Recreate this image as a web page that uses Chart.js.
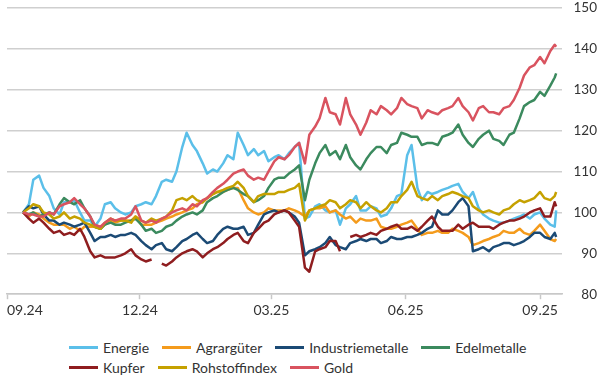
<!DOCTYPE html>
<html>
<head>
<meta charset="utf-8">
<script src="https://cdn.jsdelivr.net/npm/chart.js@4.4.1/dist/chart.umd.min.js"></script>
<style>
  html, body { margin: 0; padding: 0; background: #fff; }
  #wrap { position: relative; width: 600px; height: 380px; font-family: Lato, sans-serif; }
  #chartBox { position: absolute; left: 0; top: 0; width: 600px; height: 330px; }
  #legend { position: absolute; left: 69px; top: 337px; width: 531px; display: flex; flex-wrap: wrap; font-size: 14px; color: #333; }
  .item { display: flex; align-items: center; height: 20px; margin-right: 13px; }
  .swatch { width: 29px; height: 3px; margin-right: 5px; }
  .break { flex-basis: 100%; height: 0; }
</style>
</head>
<body>
<div id="wrap">
  <div id="chartBox"><canvas id="chart"></canvas></div>
  <div id="legend"></div>
</div>
<script>
// Twice-weekly readings, index 100 at start
const dates = [
  '2024-09-12','2024-09-16','2024-09-19','2024-09-23','2024-09-26','2024-09-30',
  '2024-10-03','2024-10-07','2024-10-10','2024-10-14','2024-10-17','2024-10-21','2024-10-24','2024-10-28','2024-10-31',
  '2024-11-04','2024-11-07','2024-11-11','2024-11-14','2024-11-18','2024-11-21','2024-11-25','2024-11-28',
  '2024-12-02','2024-12-05','2024-12-09','2024-12-12','2024-12-16','2024-12-19','2024-12-23','2024-12-26','2024-12-30',
  '2025-01-02','2025-01-06','2025-01-09','2025-01-13','2025-01-16','2025-01-20','2025-01-23','2025-01-27','2025-01-30',
  '2025-02-03','2025-02-06','2025-02-10','2025-02-13','2025-02-17','2025-02-20','2025-02-24','2025-02-27',
  '2025-03-03','2025-03-06','2025-03-10','2025-03-13','2025-03-17','2025-03-20','2025-03-24','2025-03-27','2025-03-31',
  '2025-04-03','2025-04-07','2025-04-10','2025-04-14','2025-04-17','2025-04-21','2025-04-24','2025-04-28',
  '2025-05-01','2025-05-05','2025-05-08','2025-05-12','2025-05-15','2025-05-19','2025-05-22','2025-05-26','2025-05-29',
  '2025-06-02','2025-06-05','2025-06-09','2025-06-12','2025-06-16','2025-06-19','2025-06-23','2025-06-26','2025-06-30',
  '2025-07-03','2025-07-07','2025-07-10','2025-07-14','2025-07-17','2025-07-21','2025-07-24','2025-07-28','2025-07-31',
  '2025-08-04','2025-08-07','2025-08-11','2025-08-14','2025-08-18','2025-08-21','2025-08-25','2025-08-28',
  '2025-09-01','2025-09-04','2025-09-08','2025-09-11','2025-09-12'
];

const energie = [
  100, 102, 108, 109, 106, 104, 101, 99.5, 102.5, 102.5,
  103, 100, 98, 98, 96.5, 98.5, 102, 102.5, 101, 100,
  99.5, 100, 101.5, 102, 102.5, 102, 104, 107.5, 108, 107.5,
  110, 116, 119.5, 116.5, 115, 112, 109.5, 110.5, 110, 112,
  114, 113, 119.5, 116.5, 114, 115.5, 114, 115, 112.5, 113.5,
  114, 113, 114.5, 116, 117, 98.5, 99, 101.5, 102, 100.5,
  100, 100.5, 97, 101, 102, 104, 100.5, 100.5, 101.5, 101,
  99, 99.5, 101, 104, 104.5, 114, 116.5, 106, 103, 105,
  104.5, 105, 105.5, 106, 106.5, 107, 105, 103.5, 105, 101,
  99.5, 98.5, 98, 97.5, 97.5, 98, 98.5, 99, 99.5, 98.5,
  99.5, 100, 98.5, 97, 96.5, 100.5
];
const agrar = [
  100, 99, 100, 99.5, 98.5, 97.5, 97, 97, 97, 96,
  96.5, 95.5, 96.5, 96.5, 96.5, 96, 97, 98, 97.5, 98,
  98, 98, 99, 97, 97, 97, 97.5, 98, 98.5, 99,
  99.5, 100, 100.5, 101, 102, 102.5, 103.5, 104.5, 105, 105,
  105.5, 106, 106, 103, 101, 100, 99.5, 100, 101, 100.5,
  100.5, 100.5, 101, 100.5, 100, 99, 100.5, 101, 101, 101.5,
  100, 100.5, 99.5, 98.5, 99, 97.5, 98.5, 98, 98, 98.5,
  96.5, 96, 96, 96.5, 97, 97.5, 98, 96, 94.5, 95,
  95, 95.5, 95, 95, 96, 95.5, 95, 94, 92, 92.5,
  93, 93.5, 94, 94.5, 95.5, 95, 95, 96, 95, 94.5,
  95.5, 97, 95.5, 93.5, 93, 93.5
];
const industrie = [
  100, 101.5, 101, 101.5, 99.5, 98, 98, 97, 97.5, 97,
  96.5, 97, 97.5, 95, 93, 94, 94, 94.5, 94, 94.5,
  94.5, 95, 94.5, 93, 92, 91, 92, 92.5, 91, 90.5,
  91.5, 93, 93.5, 94.5, 95, 93.5, 92.5, 93, 94.5, 96,
  96.5, 96, 96, 96.5, 94.5, 95, 97, 99.5, 100, 100.5,
  100, 100.5, 100, 99, 97.5, 89.5, 90.5, 91, 91.5, 92.5,
  94, 92, 91.5, 91, 92.5, 93, 93.5, 93, 93.5, 93.5,
  92.5, 93, 94, 93.5, 93.5, 94, 94, 94.5, 95, 96,
  96.5, 100.5, 99.5, 99.5, 100.5, 102.5, 103.5, 101.5, 90.5, 91,
  91.5, 90.5, 91.5, 92, 92.5, 92.5, 92, 92.5, 93, 94,
  95, 95, 94, 93.5, 95, 94
];
const edel = [
  100, 99.5, 100, 99, 99.5, 100, 99.5, 102, 103.5, 102.5,
  102, 103, 101, 99, 96.5, 96, 97, 97.5, 97, 97,
  97.5, 98, 98.5, 97, 95.5, 96, 95, 95.5, 96.5, 97,
  98, 99, 99.5, 100, 99.5, 100.5, 102.5, 103.5, 104, 105,
  105.5, 106, 105.5, 104.5, 104, 102.5, 103, 104, 106, 108,
  108.5, 108.5, 109.5, 110.5, 111.5, 103, 108, 112, 114.5, 116.5,
  114, 115, 113, 116.5, 113.5, 111.5, 110.5, 113, 114.5, 116,
  116, 114.5, 116.5, 117, 119.5, 119, 118.5, 118.5, 116.5, 117,
  117, 116.5, 118.5, 119, 119.5, 121.5, 119, 117, 116, 118,
  119, 120, 118, 117.5, 116.5, 119, 119.5, 123, 126, 127,
  127.5, 129.5, 128.5, 131, 133, 134
];
const kupfer = [
  100, 98.5, 97.5, 98.5, 97.5, 96, 95, 95.5, 94.5, 95,
  94.5, 96, 94, 90.5, 89, 89.5, 89, 89, 89, 89.5,
  90, 91, 89.5, 88.5, 88, 88.5, null, 87.5, 87, 88,
  89, 90, 90.5, 91, 90.5, 89, 90, 91, 91.5, 92.5,
  93.5, 94.5, 95, 93, 92.5, 95, 96, 97.5, 98, 99.5,
  100, 100.5, 100, 98, 96.5, 86.5, 85.5, 90.5, 91, 91.5,
  93, 93, 90.5, null, 94, 94.5, 94, 94.5, 95, 94.5,
  95.5, 96, 96.5, 97, 96, 96, 96.5, 95.5, 96.5, 98,
  99, 96.5, 95.5, 95.5, 95.5, 97, 96, 97, 97.5, 96.5,
  96.5, 96.5, 96, 97, 97.5, 98, 98, 98.5, 99, 100,
  100.5, 101, 99, 99, 102.5, 101.5
];
const rohstoff = [
  100, 101, 102, 101.5, 100, 99.5, 98.5, 99, 100, 98.5,
  99, 98.5, 97.5, 97, 96.5, 96, 97.5, 98.5, 98, 98,
  98, 97.5, 99, 98, 97.5, 98.5, 98, 98.5, 99, 100.5,
  103, 103.5, 103, 104, 103, 102.5, 103.5, 104.5, 105, 105.5,
  106, 106.5, 107.5, 106, 104, 102.5, 104, 104.5, 104.5, 104.5,
  105, 105, 105.5, 106, 107, 98, 100.5, 101, 101.5, 102,
  103, 102.5, 101, 102, 103, 102.5, 101, 102.5, 101.5, 100.5,
  100, 101, 102.5, 102.5, 104, 105.5, 107.5, 104, 103.5, 103,
  104, 103, 104, 104.5, 105, 104.5, 104, 103.5, 101.5, 100.5,
  100, 100.5, 100, 99.5, 100.5, 101, 102, 103, 102.5, 103,
  103.5, 105, 103.5, 103, 104, 105
];
const gold = [
  100, 99.5, 99.5, 99, 99, 100, 99.5, 101.5, 102, 102.5,
  103.5, 102, 101, 99, 97, 96.5, 97.5, 98.5, 98, 98.5,
  98.5, 99.5, 101.5, 98, 97.5, 98, 97.5, 98.5, 99, 100,
  100.5, 101, 100.5, 102, 101.5, 103, 103.5, 105, 106, 107,
  108, 109.5, 110, 110.5, 109, 108, 108.5, 108, 110, 112.5,
  113.5, 113, 114, 116, 117, 112, 119, 121, 123, 128,
  124.5, 124, 121.5, 128, 124, 121.5, 119, 122, 125, 124,
  126, 125, 124, 125.5, 128, 126.5, 126, 125.5, 123, 125,
  124.5, 124, 125, 125.5, 126, 128, 126, 124.5, 122.5, 125.5,
  126, 124.5, 124.5, 124, 125.5, 126, 127.5, 130.5, 133.5, 135.5,
  136, 138, 136.5, 139.5, 141, 140.5
];

const seriesNames = ['Energie', 'Agrargüter', 'Industriemetalle', 'Edelmetalle', 'Kupfer', 'Rohstoffindex', 'Gold'];
const seriesValues = [energie, agrar, industrie, edel, kupfer, rohstoff, gold];
const colors = ['#5bbfe9', '#f49b1c', '#1b4a75', '#3b8a5e', '#8f1d1f', '#c5a100', '#d9535f'];

const tickDates = ['2024-09-01', '2024-12-01', '2025-03-01', '2025-06-01', '2025-09-01'];
const tickLabels = ['09.24', '12.24', '03.25', '06.25', '09.25'];
const axisEnd = '2025-09-16';
const yTicks = [80, 90, 100, 110, 120, 130, 140, 150];

const startTime = Date.parse('2024-09-01');
function dayOf(s) {
    return (Date.parse(s) - startTime) / 86400000;
}
const xs = dates.map(dayOf);

function getDatasets() {
    var sets = [];
    seriesNames.forEach((name, i) => {
        sets.push({
            label: name,
            data: seriesValues[i].map((v, j) => ({ x: xs[j], y: v })),
            borderColor: colors[i],
            backgroundColor: colors[i],
            borderWidth: 2.5,
            pointRadius: 0,
            tension: 0,
            spanGaps: false,
            borderJoinStyle: 'round',
            order: -i   // later series drawn on top
        });
    });
    return sets;
}

function buildLegend() {
    const legend = document.getElementById('legend');
    seriesNames.forEach((name, i) => {
        if (i === 4) {
            const br = document.createElement('div');
            br.className = 'break';
            legend.appendChild(br);
        }
        const item = document.createElement('div');
        item.className = 'item';
        const sw = document.createElement('span');
        sw.className = 'swatch';
        sw.style.background = colors[i];
        const txt = document.createElement('span');
        txt.textContent = name;
        item.appendChild(sw);
        item.appendChild(txt);
        legend.appendChild(item);
    });
}

new Chart(document.getElementById('chart'), {
    type: 'line',
    data: { datasets: getDatasets() },
    options: {
        responsive: true,
        maintainAspectRatio: false,
        animation: false,
        layout: { padding: { left: 7, right: 3, top: 0, bottom: 8 } },
        plugins: {
            legend: { display: false },
            tooltip: { enabled: false }
        },
        scales: {
            x: {
                type: 'linear',
                min: 0,
                max: dayOf(axisEnd),
                afterBuildTicks: (scale) => {
                    scale.ticks = tickDates.map(d => ({ value: dayOf(d) })).concat([{ value: dayOf(axisEnd) }]);
                },
                ticks: {
                    align: 'inner',
                    autoSkip: false,
                    maxRotation: 0,
                    padding: 3,
                    color: '#333',
                    font: { family: 'Lato', size: 14 },
                    callback: (value, index) => tickLabels[index] || ''
                },
                grid: {
                    drawOnChartArea: false,
                    drawTicks: true,
                    tickLength: 5,
                    tickWidth: 1.5,
                    tickColor: (ctx) => ctx.index < tickLabels.length ? '#c8c8c8' : 'rgba(0,0,0,0)'
                },
                border: { display: true, color: '#c8c8c8', width: 1.5 }
            },
            y: {
                position: 'right',
                min: 80,
                max: 150,
                afterBuildTicks: (scale) => {
                    scale.ticks = yTicks.map(v => ({ value: v }));
                },
                // fixed axis width, and keep the label padding from pushing the plot down
                afterFit: (scale) => {
                    scale.width = 35;
                    scale.paddingTop = 8;
                    scale.paddingBottom = 8;
                },
                ticks: {
                    padding: 12,
                    crossAlign: 'far',
                    color: '#333',
                    font: { family: 'Lato', size: 13.5 }
                },
                grid: { color: '#cfcfcf', lineWidth: 1.5, drawTicks: false },
                border: { display: false }
            }
        }
    }
});

buildLegend();
</script>
</body>
</html>
